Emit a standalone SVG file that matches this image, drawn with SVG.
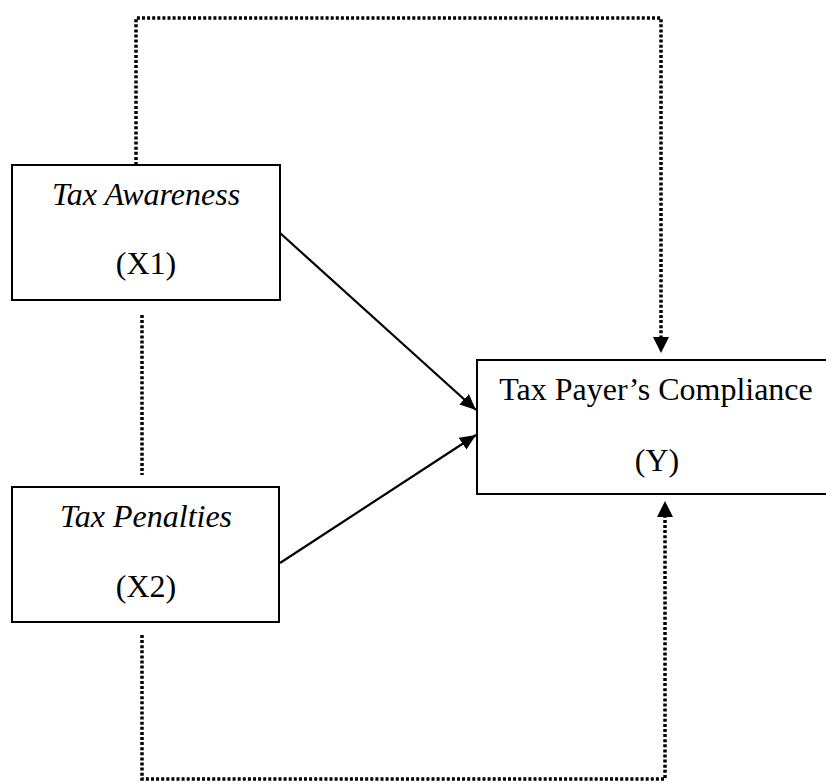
<svg xmlns="http://www.w3.org/2000/svg" width="826" height="782" viewBox="0 0 826 782">
<style>
.box{fill:#fff;stroke:#000;stroke-width:2}
.t{font-family:"Liberation Serif","Times New Roman",serif;font-size:32px;fill:#000;text-anchor:middle}
.i{font-style:italic}
.dot{fill:none;stroke:#000;stroke-width:3.5;stroke-dasharray:3 2.1}
.sol{fill:none;stroke:#000;stroke-width:2.2}
</style>
<defs>
<marker id="ah" markerWidth="16" markerHeight="14" refX="16" refY="7" orient="auto" markerUnits="userSpaceOnUse">
<path d="M0,0 L16,7 L0,14 Z" fill="#000"/>
</marker>
</defs>
<rect width="826" height="782" fill="#fff"/>
<g id="connectors">
<polyline class="dot" points="136,165 136,18 661,18 661,340"/>
<path d="M653,337 L669,337 L661,353 Z" fill="#000"/>
<line class="dot" x1="142" y1="315" x2="142" y2="475"/>
<polyline class="dot" points="142,635 142,779 665,779 665,515"/>
<path d="M657,517 L673,517 L665,501 Z" fill="#000"/>
<line class="sol" x1="280" y1="233" x2="476" y2="410" marker-end="url(#ah)"/>
<line class="sol" x1="280" y1="563" x2="476" y2="435" marker-end="url(#ah)"/>
</g>
<g id="x1">
<rect class="box" x="12" y="165" width="268" height="135"/>
<text class="t i" x="146" y="205">Tax Awareness</text>
<text class="t" x="146" y="274">(X1)</text>
</g>
<g id="x2">
<rect class="box" x="12" y="487" width="267" height="135"/>
<text class="t i" x="146" y="527">Tax Penalties</text>
<text class="t" x="146" y="597">(X2)</text>
</g>
<g id="y">
<rect class="box" x="477" y="360" width="360" height="134"/>
<text class="t" x="656" y="400">Tax Payer’s Compliance</text>
<text class="t" x="657" y="471">(Y)</text>
</g>
</svg>
